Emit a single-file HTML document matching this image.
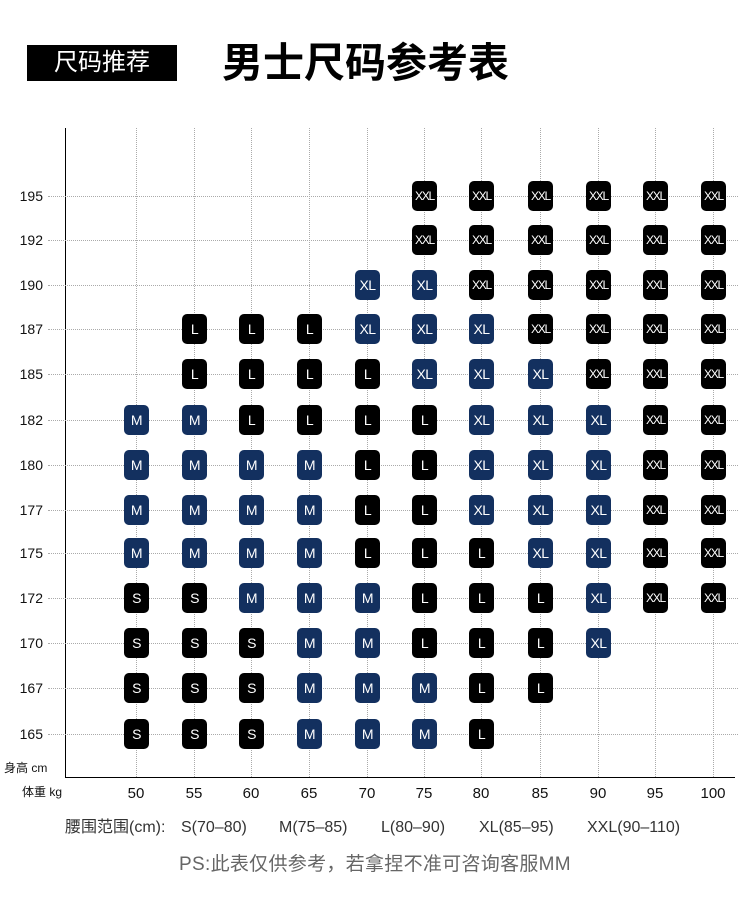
<!DOCTYPE html>
<html><head><meta charset="utf-8"><style>
body{margin:0;background:#fff;font-family:"Liberation Sans","Noto Sans CJK SC",sans-serif}
#c{position:relative;width:750px;height:916px;overflow:hidden}
.a{position:absolute}
.vl{position:absolute;top:128px;height:649px;border-left:1px dotted #aaa}
.hl{position:absolute;left:48px;width:690px;border-top:1px dotted #aaa}
.yl{position:absolute;left:0;width:43px;text-align:right;font-size:14px;color:#111;line-height:16px}
.xl{position:absolute;top:785px;width:40px;text-align:center;font-size:15px;color:#111}
.lg{position:absolute;top:818px;font-size:16px;line-height:20px;height:20px;color:#333;white-space:pre}
b{position:absolute;width:25px;height:30px;background:#000;color:#fff;font-weight:normal;font-size:14px;line-height:30px;text-align:center;border-radius:5px;letter-spacing:-0.5px}
b.n{background:#13305f}
b.x{font-size:12px;letter-spacing:-1.2px}
</style></head><body><div id="c">
<div class="a" style="left:27px;top:45px;width:150px;height:36px;background:#000;color:#fff;font-size:24px;line-height:36px;text-align:center">尺码推荐</div>
<div class="a" style="left:222px;top:38px;font-size:41px;font-weight:bold;color:#000;line-height:50px">男士尺码参考表</div>

<div class="a" style="left:65px;top:128px;width:1px;height:649px;background:#000"></div>
<div class="a" style="left:65px;top:777px;width:670px;height:1px;background:#000"></div>

<div class="vl" style="left:136px"></div><div class="vl" style="left:194px"></div><div class="vl" style="left:251px"></div><div class="vl" style="left:309px"></div><div class="vl" style="left:367px"></div><div class="vl" style="left:424px"></div><div class="vl" style="left:481px"></div><div class="vl" style="left:540px"></div><div class="vl" style="left:598px"></div><div class="vl" style="left:655px"></div><div class="vl" style="left:713px"></div>
<div class="hl" style="top:196px"></div><div class="hl" style="top:240px"></div><div class="hl" style="top:285px"></div><div class="hl" style="top:329px"></div><div class="hl" style="top:374px"></div><div class="hl" style="top:420px"></div><div class="hl" style="top:465px"></div><div class="hl" style="top:510px"></div><div class="hl" style="top:553px"></div><div class="hl" style="top:598px"></div><div class="hl" style="top:643px"></div><div class="hl" style="top:688px"></div><div class="hl" style="top:734px"></div>

<div class="yl" style="top:188px">195</div><div class="yl" style="top:232px">192</div><div class="yl" style="top:277px">190</div><div class="yl" style="top:321px">187</div><div class="yl" style="top:366px">185</div><div class="yl" style="top:412px">182</div><div class="yl" style="top:457px">180</div><div class="yl" style="top:502px">177</div><div class="yl" style="top:545px">175</div><div class="yl" style="top:590px">172</div><div class="yl" style="top:635px">170</div><div class="yl" style="top:680px">167</div><div class="yl" style="top:726px">165</div>
<div class="a" style="left:4px;top:759px;font-size:12px;color:#111">身高 cm</div>
<div class="a" style="left:22px;top:783px;font-size:12px;color:#111">体重 kg</div>

<div class="xl" style="left:116px">50</div><div class="xl" style="left:174px">55</div><div class="xl" style="left:231px">60</div><div class="xl" style="left:289px">65</div><div class="xl" style="left:347px">70</div><div class="xl" style="left:404px">75</div><div class="xl" style="left:461px">80</div><div class="xl" style="left:520px">85</div><div class="xl" style="left:578px">90</div><div class="xl" style="left:635px">95</div><div class="xl" style="left:693px">100</div>

<b class="x" style="left:412px;top:181px">XXL</b><b class="x" style="left:469px;top:181px">XXL</b><b class="x" style="left:528px;top:181px">XXL</b><b class="x" style="left:586px;top:181px">XXL</b><b class="x" style="left:643px;top:181px">XXL</b><b class="x" style="left:701px;top:181px">XXL</b>
<b class="x" style="left:412px;top:225px">XXL</b><b class="x" style="left:469px;top:225px">XXL</b><b class="x" style="left:528px;top:225px">XXL</b><b class="x" style="left:586px;top:225px">XXL</b><b class="x" style="left:643px;top:225px">XXL</b><b class="x" style="left:701px;top:225px">XXL</b>
<b class="n" style="left:355px;top:270px">XL</b><b class="n" style="left:412px;top:270px">XL</b><b class="x" style="left:469px;top:270px">XXL</b><b class="x" style="left:528px;top:270px">XXL</b><b class="x" style="left:586px;top:270px">XXL</b><b class="x" style="left:643px;top:270px">XXL</b><b class="x" style="left:701px;top:270px">XXL</b>
<b style="left:182px;top:314px">L</b><b style="left:239px;top:314px">L</b><b style="left:297px;top:314px">L</b><b class="n" style="left:355px;top:314px">XL</b><b class="n" style="left:412px;top:314px">XL</b><b class="n" style="left:469px;top:314px">XL</b><b class="x" style="left:528px;top:314px">XXL</b><b class="x" style="left:586px;top:314px">XXL</b><b class="x" style="left:643px;top:314px">XXL</b><b class="x" style="left:701px;top:314px">XXL</b>
<b style="left:182px;top:359px">L</b><b style="left:239px;top:359px">L</b><b style="left:297px;top:359px">L</b><b style="left:355px;top:359px">L</b><b class="n" style="left:412px;top:359px">XL</b><b class="n" style="left:469px;top:359px">XL</b><b class="n" style="left:528px;top:359px">XL</b><b class="x" style="left:586px;top:359px">XXL</b><b class="x" style="left:643px;top:359px">XXL</b><b class="x" style="left:701px;top:359px">XXL</b>
<b class="n" style="left:124px;top:405px">M</b><b class="n" style="left:182px;top:405px">M</b><b style="left:239px;top:405px">L</b><b style="left:297px;top:405px">L</b><b style="left:355px;top:405px">L</b><b style="left:412px;top:405px">L</b><b class="n" style="left:469px;top:405px">XL</b><b class="n" style="left:528px;top:405px">XL</b><b class="n" style="left:586px;top:405px">XL</b><b class="x" style="left:643px;top:405px">XXL</b><b class="x" style="left:701px;top:405px">XXL</b>
<b class="n" style="left:124px;top:450px">M</b><b class="n" style="left:182px;top:450px">M</b><b class="n" style="left:239px;top:450px">M</b><b class="n" style="left:297px;top:450px">M</b><b style="left:355px;top:450px">L</b><b style="left:412px;top:450px">L</b><b class="n" style="left:469px;top:450px">XL</b><b class="n" style="left:528px;top:450px">XL</b><b class="n" style="left:586px;top:450px">XL</b><b class="x" style="left:643px;top:450px">XXL</b><b class="x" style="left:701px;top:450px">XXL</b>
<b class="n" style="left:124px;top:495px">M</b><b class="n" style="left:182px;top:495px">M</b><b class="n" style="left:239px;top:495px">M</b><b class="n" style="left:297px;top:495px">M</b><b style="left:355px;top:495px">L</b><b style="left:412px;top:495px">L</b><b class="n" style="left:469px;top:495px">XL</b><b class="n" style="left:528px;top:495px">XL</b><b class="n" style="left:586px;top:495px">XL</b><b class="x" style="left:643px;top:495px">XXL</b><b class="x" style="left:701px;top:495px">XXL</b>
<b class="n" style="left:124px;top:538px">M</b><b class="n" style="left:182px;top:538px">M</b><b class="n" style="left:239px;top:538px">M</b><b class="n" style="left:297px;top:538px">M</b><b style="left:355px;top:538px">L</b><b style="left:412px;top:538px">L</b><b style="left:469px;top:538px">L</b><b class="n" style="left:528px;top:538px">XL</b><b class="n" style="left:586px;top:538px">XL</b><b class="x" style="left:643px;top:538px">XXL</b><b class="x" style="left:701px;top:538px">XXL</b>
<b style="left:124px;top:583px">S</b><b style="left:182px;top:583px">S</b><b class="n" style="left:239px;top:583px">M</b><b class="n" style="left:297px;top:583px">M</b><b class="n" style="left:355px;top:583px">M</b><b style="left:412px;top:583px">L</b><b style="left:469px;top:583px">L</b><b style="left:528px;top:583px">L</b><b class="n" style="left:586px;top:583px">XL</b><b class="x" style="left:643px;top:583px">XXL</b><b class="x" style="left:701px;top:583px">XXL</b>
<b style="left:124px;top:628px">S</b><b style="left:182px;top:628px">S</b><b style="left:239px;top:628px">S</b><b class="n" style="left:297px;top:628px">M</b><b class="n" style="left:355px;top:628px">M</b><b style="left:412px;top:628px">L</b><b style="left:469px;top:628px">L</b><b style="left:528px;top:628px">L</b><b class="n" style="left:586px;top:628px">XL</b>
<b style="left:124px;top:673px">S</b><b style="left:182px;top:673px">S</b><b style="left:239px;top:673px">S</b><b class="n" style="left:297px;top:673px">M</b><b class="n" style="left:355px;top:673px">M</b><b class="n" style="left:412px;top:673px">M</b><b style="left:469px;top:673px">L</b><b style="left:528px;top:673px">L</b>
<b style="left:124px;top:719px">S</b><b style="left:182px;top:719px">S</b><b style="left:239px;top:719px">S</b><b class="n" style="left:297px;top:719px">M</b><b class="n" style="left:355px;top:719px">M</b><b class="n" style="left:412px;top:719px">M</b><b style="left:469px;top:719px">L</b>

<div class="lg" style="left:65px">腰围范围(cm):</div>
<div class="lg" style="left:181px">S(70–80)</div>
<div class="lg" style="left:279px">M(75–85)</div>
<div class="lg" style="left:381px">L(80–90)</div>
<div class="lg" style="left:479px">XL(85–95)</div>
<div class="lg" style="left:587px">XXL(90–110)</div>
<div class="a" style="left:0;width:750px;top:849px;text-align:center;font-size:19px;color:#666;letter-spacing:0.3px">PS:此表仅供参考，若拿捏不准可咨询客服MM</div>
</div></body></html>
